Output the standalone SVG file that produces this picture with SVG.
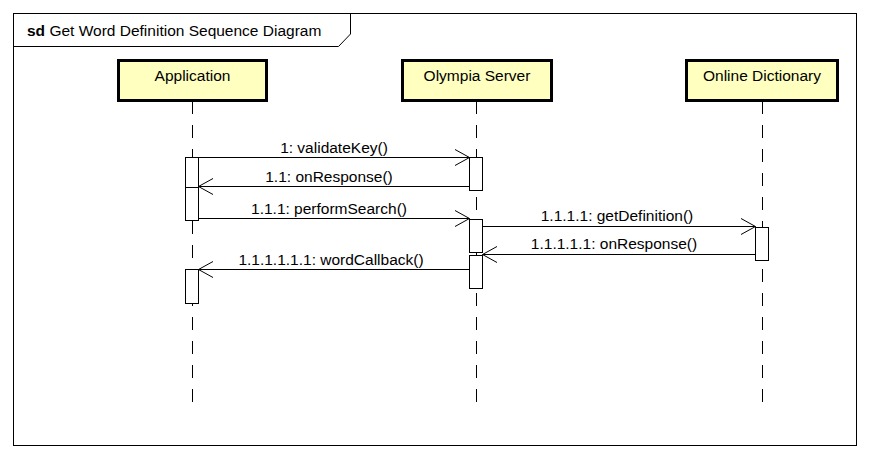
<svg xmlns="http://www.w3.org/2000/svg" width="870" height="458" viewBox="0 0 870 458">
<style>
text{font-family:"Liberation Sans",Arial,sans-serif;font-size:15.5px;fill:#000}
.lbl{text-anchor:middle}
.obj{fill:#FFFFC0;stroke:#000;stroke-width:3}
.life{stroke:#000;stroke-width:1;stroke-dasharray:13,11;fill:none}
.act{fill:#fff;stroke:#000;stroke-width:1}
.msg{stroke:#000;stroke-width:1;fill:none}
.head{stroke:#000;stroke-width:1;fill:none}
</style>
<rect width="870" height="458" fill="#fff"/>
<g id="frame">
<rect x="13.5" y="13.5" width="843" height="432" fill="none" stroke="#000" stroke-width="1"/>
<path d="M13.5 46.5 H338.5 L350.5 34 V13.5" fill="none" stroke="#000" stroke-width="1"/>
<text x="27" y="36"><tspan font-weight="bold">sd</tspan> Get Word Definition Sequence Diagram</text>
</g>
<g id="lifelines">
<line class="life" x1="192.5" y1="101" x2="192.5" y2="405"/>
<line class="life" x1="476.5" y1="101" x2="476.5" y2="405"/>
<line class="life" x1="762.5" y1="101" x2="762.5" y2="405"/>
</g>
<g id="application">
<rect class="obj" x="118.5" y="60.5" width="148" height="40"/>
<text class="lbl" x="192.5" y="81">Application</text>
</g>
<g id="olympia-server">
<rect class="obj" x="402.5" y="60.5" width="149" height="40"/>
<text class="lbl" x="477" y="81">Olympia Server</text>
</g>
<g id="online-dictionary">
<rect class="obj" x="686.5" y="60.5" width="151" height="40"/>
<text class="lbl" x="762" y="81">Online Dictionary</text>
</g>
<g id="activations">
<rect class="act" x="185.5" y="157.5" width="13" height="30"/>
<rect class="act" x="185.5" y="187.5" width="13" height="33"/>
<rect class="act" x="185.5" y="269.5" width="13" height="34"/>
<rect class="act" x="469.5" y="157.5" width="13" height="33"/>
<rect class="act" x="469.5" y="219.5" width="13" height="33"/>
<rect class="act" x="469.5" y="255.5" width="13" height="33"/>
<rect class="act" x="755.5" y="227.5" width="13" height="33"/>
</g>
<g id="connectors">
<line class="msg" x1="198.5" y1="157.5" x2="469.5" y2="157.5"/>
<path class="head" d="M455 149.5 L469.5 157.5 L455 165.5"/>
<line class="msg" x1="469.5" y1="186.5" x2="198.5" y2="186.5"/>
<path class="head" d="M213 178.5 L198.5 186.5 L213 194.5"/>
<line class="msg" x1="198.5" y1="218.5" x2="469.5" y2="218.5"/>
<path class="head" d="M455 210.5 L469.5 218.5 L455 226.5"/>
<line class="msg" x1="482.5" y1="226.5" x2="755.5" y2="226.5"/>
<path class="head" d="M741 218.5 L755.5 226.5 L741 234.5"/>
<line class="msg" x1="755.5" y1="254.5" x2="482.5" y2="254.5"/>
<path class="head" d="M497 246.5 L482.5 254.5 L497 262.5"/>
<line class="msg" x1="469.5" y1="269.5" x2="198.5" y2="269.5"/>
<path class="head" d="M213 261.5 L198.5 269.5 L213 277.5"/>
</g>
<g id="labels">
<text class="lbl" x="334" y="153">1: validateKey()</text>
<text class="lbl" x="329" y="182">1.1: onResponse()</text>
<text class="lbl" x="329" y="214">1.1.1: performSearch()</text>
<text class="lbl" x="617" y="221">1.1.1.1: getDefinition()</text>
<text class="lbl" x="614" y="249">1.1.1.1.1: onResponse()</text>
<text class="lbl" x="331" y="265">1.1.1.1.1.1: wordCallback()</text>
</g>
</svg>
